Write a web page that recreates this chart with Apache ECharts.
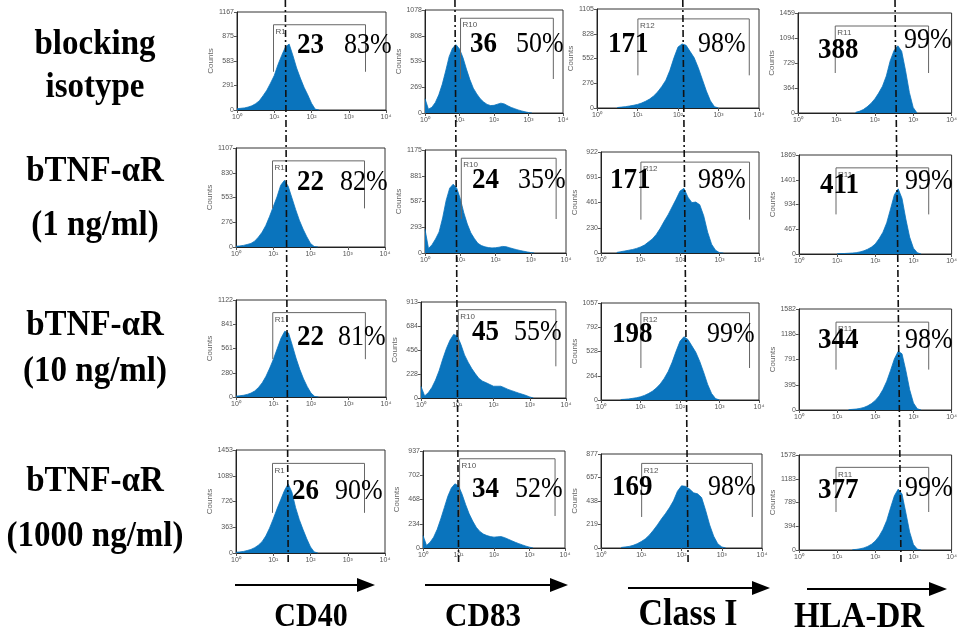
<!DOCTYPE html>
<html><head><meta charset="utf-8">
<script src="https://cdn.jsdelivr.net/npm/echarts@6/dist/echarts.min.js"></script>
<style>html,body{margin:0;padding:0;background:#fff}#chart{width:960px;height:636px}</style>
</head><body><div id="chart"></div>
<script>
// Flow cytometry histograms: treatments (rows) x surface markers (columns)
const markers = ['CD40', 'CD83', 'Class I', 'HLA-DR'];
const treatments = [['blocking', 'isotype'], ['bTNF-\u03b1R', '(1 ng/ml)'], ['bTNF-\u03b1R', '(10 ng/ml)'], ['bTNF-\u03b1R', '(1000 ng/ml)']];
const decadeTicks = ['10\u2070', '10\u00b9', '10\u00b2', '10\u00b3', '10\u2074'];
const gateNames = ['R1', 'R10', 'R12', 'R11'];
const gateLo = [0.98, 1.03, 1.01, 0.97];   // gate limits, log10 fluorescence
const gateHi = [3.45, 3.72, 3.76, 3.40];
const countMax = [[1167, 1078, 1105, 1459], [1107, 1175, 922, 1869], [1122, 913, 1057, 1582], [1453, 937, 877, 1578]];
const mfi = [[23, 36, 171, 388], [22, 24, 171, 411], [22, 45, 198, 344], [26, 34, 169, 377]];
const pctPositive = [[83, 50, 98, 99], [82, 35, 98, 99], [81, 55, 99, 98], [90, 52, 98, 99]];
// isotype reference line per marker, log10 units at first and last row
const refLine = [[1.30, 1.40], [0.87, 1.00], [2.12, 2.16], [2.53, 2.67]];

// histogram counts in 0.1-decade bins; first bin at binStart (log10)
const binStart = [[0, 0, 0.5, 1.5], [0, 0, 0.4, 1.0], [0, 0, 0.5, 1.3], [0, 0, 0.5, 1.4]];
const cd40Counts = [
  [15, 20, 25, 35, 50, 75, 110, 170, 235, 320, 410, 540, 650, 750, 785, 650, 500, 380, 270, 180, 80, 10, 0],
  [8, 12, 18, 28, 40, 65, 110, 165, 240, 340, 450, 560, 690, 745, 680, 550, 420, 300, 200, 115, 40, 5, 0],
  [10, 14, 20, 30, 45, 70, 110, 165, 240, 335, 440, 560, 680, 760, 740, 600, 450, 320, 210, 120, 45, 6, 0],
  [10, 15, 22, 35, 50, 75, 110, 160, 240, 350, 480, 620, 750, 880, 975, 860, 640, 470, 330, 200, 85, 15, 0]
];
const cd83Counts = [
  [150, 40, 60, 110, 190, 300, 440, 590, 680, 715, 670, 580, 460, 350, 260, 200, 150, 115, 90, 78, 80, 92, 103, 95, 75, 58, 45, 32, 22, 12, 5, 0],
  [270, 50, 95, 160, 240, 400, 600, 740, 785, 740, 620, 460, 330, 230, 165, 110, 85, 70, 62, 58, 60, 66, 75, 72, 60, 48, 38, 28, 20, 12, 5, 0],
  [110, 20, 50, 100, 170, 260, 370, 470, 550, 605, 590, 510, 410, 340, 280, 230, 185, 160, 145, 128, 112, 112, 112, 98, 82, 70, 58, 46, 35, 24, 10, 0],
  [120, 25, 55, 105, 180, 280, 390, 500, 580, 620, 600, 520, 420, 330, 260, 200, 160, 135, 120, 110, 105, 108, 110, 100, 85, 70, 55, 42, 30, 18, 8, 0]
];
const classICounts = [
  [5, 10, 15, 22, 30, 40, 55, 75, 100, 135, 180, 240, 310, 420, 560, 680, 715, 700, 630, 560, 450, 320, 190, 80, 15, 0],
  [5, 12, 18, 25, 32, 42, 55, 72, 100, 128, 170, 225, 290, 350, 420, 490, 565, 590, 510, 460, 465, 440, 340, 190, 80, 25, 3, 0],
  [5, 8, 12, 18, 25, 35, 50, 70, 95, 130, 175, 235, 310, 410, 530, 640, 690, 660, 590, 520, 420, 300, 170, 70, 15, 0],
  [5, 10, 15, 25, 40, 60, 85, 120, 165, 215, 270, 320, 375, 440, 530, 580, 575, 550, 515, 505, 470, 350, 215, 110, 40, 10, 0]
];
const hlaDrCounts = [
  [10, 25, 50, 90, 140, 205, 290, 390, 540, 760, 910, 980, 900, 620, 300, 80, 0],
  [5, 8, 10, 14, 18, 25, 40, 60, 90, 130, 190, 290, 410, 590, 850, 1120, 1230, 1050, 660, 320, 110, 25, 0],
  [5, 10, 15, 25, 40, 65, 100, 150, 220, 320, 450, 620, 800, 920, 880, 620, 320, 110, 20, 0],
  [5, 10, 20, 35, 60, 95, 150, 230, 340, 490, 700, 900, 1010, 930, 620, 300, 90, 15, 0]
];
const histCounts = [cd40Counts, cd83Counts, classICounts, hlaDrCounts];

// ---- layout ----
const gridRects = [
  [[237, 12, 149, 98], [425, 10, 138, 103], [597, 9, 162, 99], [798, 13, 155, 100]],
  [[236, 148, 149, 99], [425, 150, 141, 103], [601, 152, 158, 101], [799, 155, 154, 99]],
  [[236, 300, 150, 97], [421, 302, 145, 96], [601, 303, 158, 97], [799, 309, 154, 101]],
  [[236, 450, 149, 103], [423, 451, 142, 97], [601, 454, 161, 94], [799, 455, 154, 95]]
];
// [number x, number y, percent x, percent y] (left edge, vertical middle)
const textAnchors = [
  [[297, 45, 344, 45], [470, 44, 516, 44], [608, 44, 698, 44], [818, 50, 904, 40]],
  [[297, 182, 340, 182], [472, 180, 518, 180], [610, 180, 698, 180], [820, 185, 905, 181]],
  [[297, 337, 338, 337], [472, 332, 514, 332], [612, 334, 707, 334], [818, 340, 905, 340]],
  [[292, 491, 335, 491], [472, 489, 515, 489], [612, 487, 708, 487], [818, 490, 905, 488]]
];
const gateTop = [0.87, 0.92, 0.90, 0.87];
const gateBottom = [0.39, 0.33, 0.33, 0.40];
const arrows = [[235, 375, 585], [425, 568, 585], [628, 770, 588], [807, 947, 589]];
const markerLabelPos = [[311, 617, 30], [483, 617, 31], [688, 615, 34], [859, 618, 33]];
const rowLabelY = [[45, 88], [172, 226], [326, 372], [482, 537]];

const BLUE = '#0a74bd';
const SERIF = '"Liberation Serif", "Times New Roman", serif';
const SANS = '"Liberation Sans Narrow", "Liberation Sans", Arial, sans-serif';

const chart = echarts.init(document.getElementById('chart'), null, { renderer: 'canvas' });
const grids = [], xAxes = [], yAxes = [], series = [];
for (let r = 0; r < 4; r++) {
  for (let c = 0; c < 4; c++) {
    const k = r * 4 + c;
    const [l, t, w, h] = gridRects[r][c];
    const ymax = countMax[r][c];
    grids.push({ left: l, top: t, width: w, height: h, show: true, borderColor: '#333', borderWidth: 1, backgroundColor: 'transparent' });
    xAxes.push({
      gridIndex: k, type: 'value', min: 0, max: 4, interval: 1,
      axisLine: { lineStyle: { color: '#222', width: 1 } },
      axisTick: { length: 3, lineStyle: { color: '#555' } },
      axisLabel: { fontSize: 7, color: '#555', margin: 4, fontFamily: SANS, formatter: v => decadeTicks[Math.round(v)] },
      splitLine: { show: false }
    });
    yAxes.push({
      gridIndex: k, type: 'value', min: 0, max: ymax, interval: ymax / 4,
      axisLine: { show: true, lineStyle: { color: '#222', width: 1 } },
      axisTick: { show: true, length: 3, lineStyle: { color: '#555' } },
      axisLabel: { fontSize: 7, color: '#555', margin: 3, fontFamily: SANS, formatter: v => String(Math.floor(v + 1e-6)) },
      splitLine: { show: false },
      name: 'Counts', nameLocation: 'middle', nameGap: 22, nameRotate: 90,
      nameTextStyle: { fontSize: 8, color: '#666', fontFamily: SANS }
    });
    const counts = histCounts[c][r];
    const start = binStart[r][c];
    series.push({
      type: 'line', xAxisIndex: k, yAxisIndex: k, symbol: 'none', silent: true,
      data: counts.map((v, i) => [start + i * 0.1, v]),
      lineStyle: { color: BLUE, width: 0.8 },
      areaStyle: { color: BLUE, opacity: 1 },
      z: 2
    });
    const gt = gateTop[c] * ymax, gb = gateBottom[c] * ymax;
    series.push({
      type: 'line', xAxisIndex: k, yAxisIndex: k, symbol: 'none', silent: true,
      data: [[gateLo[c], gb], [gateLo[c], gt], [gateHi[c], gt], [gateHi[c], gb]],
      lineStyle: { color: '#666', width: 1 },
      z: 3
    });
  }
}

chart.setOption({
  animation: false,
  backgroundColor: '#fff',
  grid: grids, xAxis: xAxes, yAxis: yAxes, series: series
});

// annotations placed after the axes exist
const g = [];
for (let r = 0; r < 4; r++) {
  for (let c = 0; c < 4; c++) {
    const k = r * 4 + c;
    const [nx, ny, px, py] = textAnchors[r][c];
    g.push({ type: 'text', x: nx, y: ny, scaleY: 1.1, z: 20, style: { text: String(mfi[r][c]), font: 'bold 27px ' + SERIF, fill: '#000', textVerticalAlign: 'middle' } });
    g.push({ type: 'text', x: px, y: py, scaleY: 1.1, z: 20, style: { text: pctPositive[r][c] + '%', font: '26px ' + SERIF, fill: '#000', textVerticalAlign: 'middle' } });
    const gp = chart.convertToPixel({ gridIndex: k }, [gateLo[c], gateTop[c] * countMax[r][c]]);
    g.push({ type: 'text', x: gp[0] + 2, y: gp[1] + 3, z: 15, style: { text: gateNames[c], font: '8px ' + SANS, fill: '#555' } });
  }
}
// dash-dot isotype reference lines through each column
for (let c = 0; c < 4; c++) {
  const top = chart.convertToPixel({ gridIndex: c }, [refLine[c][0], countMax[0][c]]);
  const bot = chart.convertToPixel({ gridIndex: 12 + c }, [refLine[c][1], 0]);
  const slope = (bot[0] - top[0]) / (bot[1] - top[1]);
  const y1 = 0, y2 = 562;
  g.push({ type: 'line', z: 25, shape: { x1: top[0] + slope * (y1 - top[1]), y1: y1, x2: top[0] + slope * (y2 - top[1]), y2: y2 },
    style: { stroke: '#111', lineWidth: 1.6, lineDash: [7, 3, 2, 3] } });
}
// axis arrows and marker names
for (let c = 0; c < 4; c++) {
  const [x1, x2, y] = arrows[c];
  g.push({ type: 'line', shape: { x1: x1, y1: y, x2: x2 - 14, y2: y }, style: { stroke: '#000', lineWidth: 2 } });
  g.push({ type: 'polygon', shape: { points: [[x2 - 18, y - 7], [x2, y], [x2 - 18, y + 7]] }, style: { fill: '#000' } });
  const [lx, ly, fs] = markerLabelPos[c];
  g.push({ type: 'text', x: lx, y: ly, scaleY: 1.1, style: { text: markers[c], font: 'bold ' + fs + 'px ' + SERIF, fill: '#000', textAlign: 'center', textVerticalAlign: 'middle' } });
}
// treatment labels
for (let r = 0; r < 4; r++) {
  for (let j = 0; j < 2; j++) {
    g.push({ type: 'text', x: 95, y: rowLabelY[r][j], scaleY: 1.1, style: { text: treatments[r][j], font: 'bold 33px ' + SERIF, fill: '#000', textAlign: 'center', textVerticalAlign: 'middle' } });
  }
}
chart.setOption({ graphic: g });
</script>
</body></html>
